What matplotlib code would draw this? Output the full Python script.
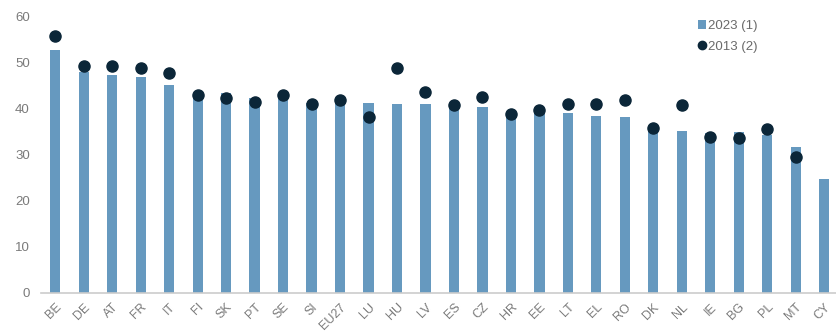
import matplotlib
matplotlib.use("Agg")
import matplotlib.pyplot as plt
import numpy as np

plt.rcParams['font.family'] = ['Liberation Sans', 'DejaVu Sans']

countries = ['BE', 'DE', 'AT', 'FR', 'IT', 'FI', 'SK', 'PT', 'SE', 'SI', 'EU27', 'LU', 'HU',
             'LV', 'ES', 'CZ', 'HR', 'EE', 'LT', 'EL', 'RO', 'DK', 'NL', 'IE', 'BG', 'PL', 'MT', 'CY']
val_2023 = [52.8, 47.9, 47.3, 46.9, 45.2, 42.8, 43.4, 42.3, 42.7, 41.2, 42.1, 41.2, 41.1,
            41.1, 40.5, 40.3, 39.0, 39.8, 39.0, 38.5, 38.3, 35.8, 35.1, 34.7, 34.9, 34.3, 31.7, 24.7]
val_2013 = [55.7, 49.2, 49.2, 48.8, 47.7, 42.9, 42.3, 41.4, 42.9, 41.1, 41.9, 38.2, 48.9,
            43.7, 40.7, 42.5, 38.9, 39.8, 41.1, 41.1, 41.9, 35.8, 40.7, 33.8, 33.7, 35.6, 29.6, np.nan]

bar_col = '#6699bf'
dot_col = '#0b2638'
txt_col = '#7a7a7a'

fig = plt.figure(figsize=(8.37, 3.31), dpi=100)
ax = fig.add_axes([0.049, 0.115, 0.951, 0.835])

x = np.arange(len(countries))
bars = ax.bar(x, val_2023, width=0.36, color=bar_col, label='2023 (1)', zorder=2)
dots, = ax.plot(x, val_2013, 'o', color=dot_col, markersize=8, label='2013 (2)', zorder=3)

ax.set_xlim(-0.5, 27.45)
ax.set_ylim(0, 60)
ax.set_yticks(range(0, 61, 10))
ax.set_xticks(x)
ax.set_xticklabels(countries, rotation=45, ha='right', rotation_mode='anchor')
ax.tick_params(axis='both', length=0, colors=txt_col, labelsize=9.5)
ax.tick_params(axis='y', pad=8)
ax.tick_params(axis='x', pad=6, labelsize=9)

for s in ['top', 'right', 'left']:
    ax.spines[s].set_visible(False)
ax.spines['bottom'].set_color('#cccccc')
ax.spines['bottom'].set_linewidth(1.2)

leg = ax.legend(handles=[bars, dots], loc='upper left', bbox_to_anchor=(0.81, 1.03),
                frameon=False, fontsize=9.5, handlelength=0.6, handletextpad=0.2,
                labelspacing=0.6, markerscale=0.75)
for t in leg.get_texts():
    t.set_color('#6a6a6a')

fig.savefig('out.png', dpi=100)
